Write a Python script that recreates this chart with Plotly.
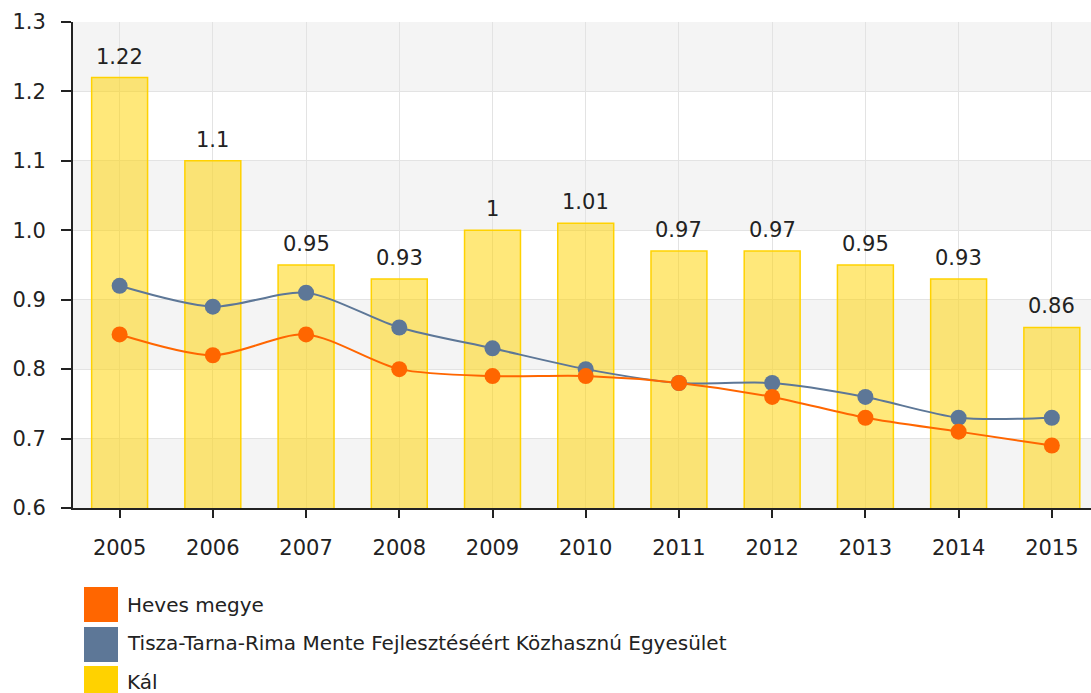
import plotly.graph_objects as go

years = [2005, 2006, 2007, 2008, 2009, 2010, 2011, 2012, 2013, 2014, 2015]
year_labels = [str(y) for y in years]
heves = [0.85, 0.82, 0.85, 0.80, 0.79, 0.79, 0.78, 0.76, 0.73, 0.71, 0.69]
tisza = [0.92, 0.89, 0.91, 0.86, 0.83, 0.80, 0.78, 0.78, 0.76, 0.73, 0.73]
kal = [1.22, 1.1, 0.95, 0.93, 1, 1.01, 0.97, 0.97, 0.95, 0.93, 0.86]
kal_labels = ["1.22", "1.1", "0.95", "0.93", "1", "1.01", "0.97", "0.97", "0.95", "0.93", "0.86"]
series_names = ["Heves megye", "Tisza-Tarna-Rima Mente Fejlesztéséért Közhasznú Egyesület", "Kál"]
series_colors = ["#FF6600", "#5D7797", "#FFD200"]
y_ticks = [0.6, 0.7, 0.8, 0.9, 1.0, 1.1, 1.2, 1.3]

W, H = 1091, 693
ML, MR, MT, MB = 73, 0, 22, 185
PW, PH = W - ML - MR, H - MT - MB
FONT = "DejaVu Sans"

def px2paper_x(px):
    return (px - ML) / PW

def px2paper_y(py):
    return (H - MB - py) / PH

fig = go.Figure()
fig.add_trace(go.Bar(
    x=list(range(len(years))), y=kal, width=0.6,
    marker=dict(color="rgba(255,210,0,0.52)", line=dict(color="#FFD200", width=1.5)),
    showlegend=False, name=series_names[2], base=0,
))
fig.add_trace(go.Scatter(
    x=list(range(len(years))), y=tisza, mode="lines+markers",
    line=dict(color=series_colors[1], width=2, shape="spline", smoothing=0.8),
    marker=dict(size=16, color=series_colors[1]), showlegend=False, name=series_names[1],
))
fig.add_trace(go.Scatter(
    x=list(range(len(years))), y=heves, mode="lines+markers",
    line=dict(color=series_colors[0], width=2, shape="spline", smoothing=0.8),
    marker=dict(size=16, color=series_colors[0]), showlegend=False, name=series_names[0],
))

shapes = []
for i in range(len(y_ticks) - 1):
    if i % 2 == 0:
        shapes.append(dict(type="rect", xref="paper", yref="y", x0=0, x1=1,
                           y0=y_ticks[i], y1=y_ticks[i + 1],
                           fillcolor="#F4F4F4", line=dict(width=0), layer="below"))

annotations = []
for i, (v, t) in enumerate(zip(kal, kal_labels)):
    annotations.append(dict(x=i, y=v, text=t, showarrow=False, xref="x", yref="y",
                            yanchor="bottom", yshift=7,
                            font=dict(family=FONT, size=21, color="#222")))

leg_boxes = [(587, 622), (627, 662), (666, 701)]
leg_text_y = [605, 643, 682]
for name, col, (y0, y1), ty in zip(series_names, series_colors, leg_boxes, leg_text_y):
    shapes.append(dict(type="rect", xref="paper", yref="paper",
                       x0=px2paper_x(84), x1=px2paper_x(118),
                       y0=px2paper_y(y1), y1=px2paper_y(y0),
                       fillcolor=col, line=dict(width=0)))
    annotations.append(dict(x=px2paper_x(125), y=px2paper_y(ty), xref="paper", yref="paper",
                            text=name, showarrow=False, xanchor="left", yanchor="middle",
                            font=dict(family=FONT, size=20, color="#222")))

fig.update_layout(
    width=W, height=H,
    margin=dict(l=ML, r=MR, t=MT, b=MB, pad=0),
    plot_bgcolor="white", paper_bgcolor="white",
    shapes=shapes, annotations=annotations,
    showlegend=False,
    xaxis=dict(range=[-0.5, 10.42], tickmode="array", tickvals=list(range(len(years))),
               ticktext=year_labels, showgrid=True, gridcolor="#E3E3E3", gridwidth=1,
               showline=True, linecolor="#222", linewidth=2, ticks="outside", ticklen=8,
               tickcolor="#222", tickwidth=2, zeroline=False, ticklabelstandoff=12,
               tickfont=dict(family=FONT, size=21, color="#222")),
    yaxis=dict(range=[0.6, 1.3], tickmode="array", tickvals=y_ticks,
               ticktext=[f"{v:.1f}" for v in y_ticks], showgrid=True, gridcolor="#E3E3E3",
               gridwidth=1, showline=True, linecolor="#222", linewidth=2, ticks="outside",
               ticklen=10, tickcolor="#222", tickwidth=2, zeroline=False, ticklabelstandoff=11,
               tickfont=dict(family=FONT, size=21, color="#222")),
)

fig.write_html("out.html", config={"displayModeBar": False},
               post_script="document.body.style.margin='0';document.body.style.overflow='hidden';")
